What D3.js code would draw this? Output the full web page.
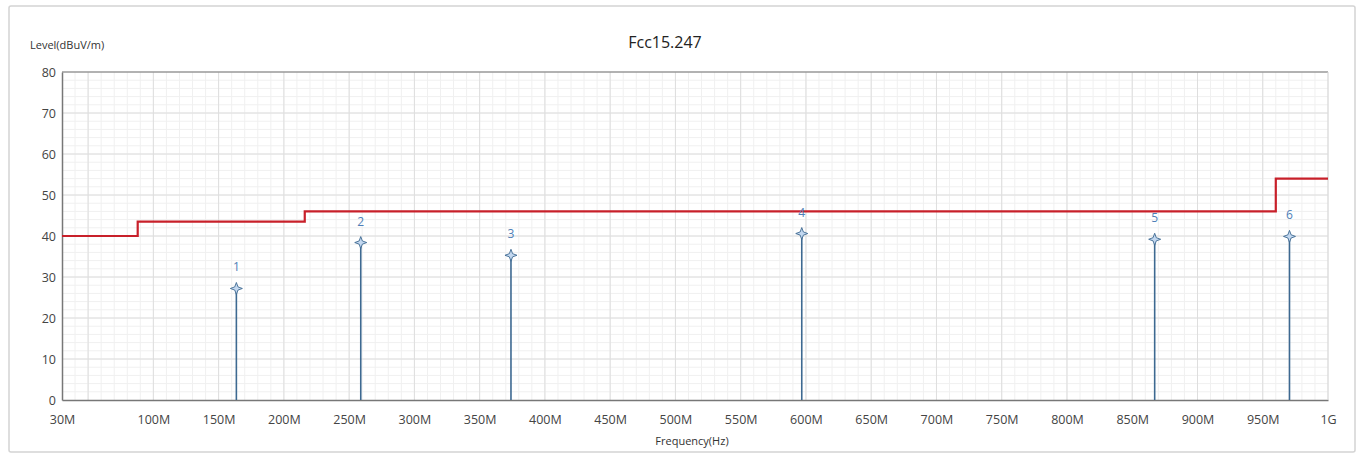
<!DOCTYPE html>
<html>
<head>
<meta charset="utf-8">
<script src="https://cdn.jsdelivr.net/npm/d3@7"></script>
<style>
  html, body { margin: 0; padding: 0; background: #fff; }
  svg { display: block; font-family: "Open Sans", "Noto Sans", sans-serif; }
</style>
</head>
<body>
<svg id="chart" width="1360" height="457"></svg>
<script>
// ---- data ----
const xTickValues = [30, 100, 150, 200, 250, 300, 350, 400, 450, 500, 550, 600, 650, 700, 750, 800, 850, 900, 950, 1000];
const xTickLabels = ["30M", "100M", "150M", "200M", "250M", "300M", "350M", "400M", "450M", "500M", "550M", "600M", "650M", "700M", "750M", "800M", "850M", "900M", "950M", "1G"];
const yTickValues = [0, 10, 20, 30, 40, 50, 60, 70, 80];
const limitFreq = [30, 88, 88, 216, 216, 960, 960, 1000];
const limitLevel = [40, 40, 43.5, 43.5, 46, 46, 54, 54];
const peakLabels = ["1", "2", "3", "4", "5", "6"];
const peakFreq = [163.6, 258.9, 374.0, 596.8, 867.2, 970.5];
const peakLevel = [27.2, 38.4, 35.3, 40.6, 39.2, 39.9];

// ---- layout ----
const svg = d3.select("#chart");
const W = 1360, H = 457;
const m = { left: 62, right: 32, top: 72, bottom: 57 };
const x = d3.scaleLinear().domain([30, 1000]).range([m.left, W - m.right]);
const y = d3.scaleLinear().domain([0, 80]).range([H - m.bottom, m.top]);

// panel frame
svg.append("rect").attr("x", 9).attr("y", 6).attr("width", 1346).attr("height", 446)
  .attr("fill", "#fff").attr("stroke", "#d4d4d4").attr("stroke-width", 1.5).attr("rx", 2);

// minor grid
const g = svg.append("g");
g.selectAll(".vminor").data(d3.range(40, 1000, 10)).join("line")
  .attr("x1", d => x(d)).attr("x2", d => x(d)).attr("y1", y(0)).attr("y2", y(80))
  .attr("stroke", "#f0f0f0").attr("stroke-width", 1);
g.selectAll(".hminor").data(d3.range(2, 80, 2)).join("line")
  .attr("x1", x(30)).attr("x2", x(1000)).attr("y1", d => y(d)).attr("y2", d => y(d))
  .attr("stroke", "#f0f0f0").attr("stroke-width", 1);
// major grid
g.selectAll(".vmajor").data(d3.range(50, 1001, 50)).join("line")
  .attr("x1", d => x(d)).attr("x2", d => x(d)).attr("y1", y(0)).attr("y2", y(80))
  .attr("stroke", "#dedede").attr("stroke-width", 1);
g.selectAll(".hmajor").data(yTickValues.filter(v => v > 0)).join("line")
  .attr("x1", x(30)).attr("x2", x(1000)).attr("y1", d => y(d)).attr("y2", d => y(d))
  .attr("stroke", "#dedede").attr("stroke-width", 1);

// axes
const xAxis = d3.axisBottom(x).tickValues(xTickValues)
  .tickFormat((d, i) => xTickLabels[i]).tickSize(0).tickPadding(15);
const xg = svg.append("g").attr("transform", `translate(0,${y(0)})`).call(xAxis);
xg.select(".domain").attr("stroke", "#777").attr("stroke-width", 1.5);
xg.selectAll("text").attr("font-size", 12.5).attr("fill", "#444")
  .attr("font-family", "Open Sans, Noto Sans, sans-serif");

const yAxis = d3.axisLeft(y).tickValues(yTickValues).tickSize(0).tickPadding(6);
const yg = svg.append("g").attr("transform", `translate(${x(30)},0)`).call(yAxis);
yg.select(".domain").attr("stroke", "#777").attr("stroke-width", 1.5);
yg.selectAll("text").attr("font-size", 12.5).attr("fill", "#444")
  .attr("font-family", "Open Sans, Noto Sans, sans-serif");

// top border
svg.append("line").attr("x1", x(30)).attr("x2", x(1000)).attr("y1", y(80)).attr("y2", y(80))
  .attr("stroke", "#777").attr("stroke-width", 1.2);
svg.append("line").attr("x1", x(1000)).attr("x2", x(1000)).attr("y1", y(80)).attr("y2", y(0))
  .attr("stroke", "#ddd").attr("stroke-width", 1);

// limit line
const limitData = limitFreq.map((f, i) => [f, limitLevel[i]]);
svg.append("path").datum(limitData)
  .attr("d", d3.line().x(d => x(d[0])).y(d => y(d[1])))
  .attr("fill", "none").attr("stroke", "#c8202a").attr("stroke-width", 2.2);

// peaks
const peaks = peakLabels.map((l, i) => ({ l, f: peakFreq[i], v: peakLevel[i] }));
const pg = svg.append("g");
pg.selectAll(".stem").data(peaks).join("line")
  .attr("x1", d => x(d.f)).attr("x2", d => x(d.f))
  .attr("y1", y(0)).attr("y2", d => y(d.v))
  .attr("stroke", "#3d6991").attr("stroke-width", 1.6);
// 4-point star marker
const starPath = "M0,-6L1.6,-1.6L6,0L1.6,1.6L0,6L-1.6,1.6L-6,0L-1.6,-1.6Z";
pg.selectAll(".mk").data(peaks).join("path")
  .attr("transform", d => `translate(${x(d.f)},${y(d.v)})`)
  .attr("d", starPath).attr("fill", "#c3d8f0").attr("stroke", "#3d6991").attr("stroke-width", 0.9);
pg.selectAll(".lb").data(peaks).join("text")
  .attr("x", d => x(d.f)).attr("y", d => y(d.v) - 17)
  .attr("text-anchor", "middle").attr("font-size", 12).attr("fill", "#4f7fb8")
  .text(d => d.l);

// titles
svg.append("text").attr("x", 665).attr("y", 48).attr("text-anchor", "middle")
  .attr("font-size", 16).attr("fill", "#222").text("Fcc15.247");
svg.append("text").attr("x", 30).attr("y", 49)
  .attr("font-size", 11).attr("fill", "#333").text("Level(dBuV/m)");
svg.append("text").attr("x", 692).attr("y", 445).attr("text-anchor", "middle")
  .attr("font-size", 11).attr("fill", "#333").text("Frequency(Hz)");
</script>
</body>
</html>
